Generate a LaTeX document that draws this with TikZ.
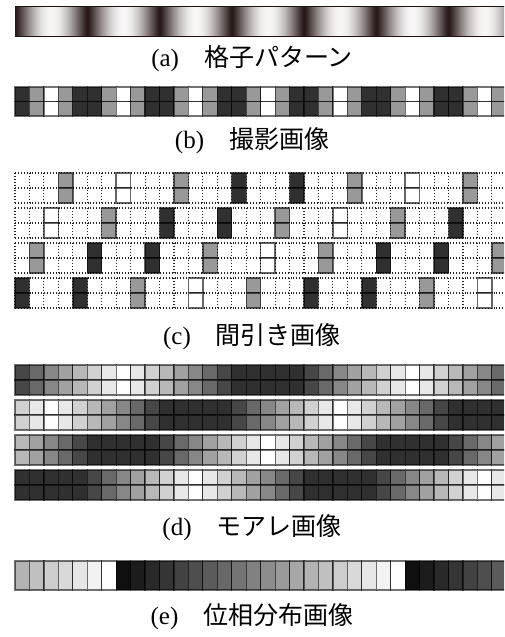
\documentclass[tikz,border=0pt]{standalone}
\usepackage{fontspec}
\setmainfont{Liberation Serif}
\newfontfamily\jp{Noto Sans CJK JP}
\definecolor{gdark}{rgb}{0.13,0.07,0.07}
\begin{document}
\begin{tikzpicture}[x=1pt,y=-1pt,
  cellb/.style={draw=black, draw opacity=0.55, line width=1.2pt},
  solidb/.style={draw=black, draw opacity=0.6, line width=1.4pt},
  dotg/.style={draw=black!85, line width=1.1pt, dash pattern=on 1pt off 1.9pt},
  lab/.style={font=\fontsize{25}{30}\selectfont, inner sep=0pt, anchor=center}]
\useasboundingbox (0,0) rectangle (504,637);
\clip (0,0) rectangle (504,637);
% (a) grating pattern
\foreach \i in {0,...,489}{
  \pgfmathsetmacro\ph{cos((\i+15-51.1)/72.25*360)}
  \pgfmathsetmacro\tv{((1+\ph)/2+0.002)^0.55}
  \pgfmathsetmacro\vr{0.13+0.84*\tv}
  \pgfmathsetmacro\vg{0.07+0.89*\tv}
  \pgfmathsetmacro\vb{0.07+0.89*\tv}
  \definecolor{gc}{rgb}{\vr,\vg,\vb}
  \fill[gc] (\i+15,6) rectangle (\i+16.4,36);
}
\draw[gdark, line width=0.8pt] (15,6) -- (510,6);
\draw[gdark, line width=0.8pt] (15,36) -- (510,36);
% (b) captured image
\foreach \k in {0,...,33}{
  \pgfmathtruncatemacro\m{mod(\k,5)}
  \edef\gv{\ifcase\m\space 0.19\or 0.6\or 1\or 0.6\else 0.19\fi}
  \definecolor{cc}{gray}{\gv}
  \pgfmathsetmacro\xa{15+\k*14.45}
  \filldraw[fill=cc,cellb] (\xa,87) rectangle ++(14.45,14.5);
  \filldraw[fill=cc,cellb] (\xa,101.5) rectangle ++(14.45,14.5);
}
% (c) decimated images
\foreach \s in {0,1,2,3}{
  \pgfmathsetmacro\ya{173+35*\s}
  \pgfmathtruncatemacro\rr{mod(3-\s+4,4)}
  \draw[dotg] (15,\ya) -- (510,\ya);
  \draw[dotg] (15,\ya+15) -- (510,\ya+15);
  \draw[dotg] (15,\ya+30) -- (510,\ya+30);
  \foreach \k in {0,...,34}{
    \pgfmathsetmacro\xa{15+\k*14.45}
    \draw[dotg] (\xa,\ya) -- (\xa,\ya+30);
  }
  \foreach \k in {0,...,33}{
    \pgfmathtruncatemacro\mm{mod(\k,4)}
    \ifnum\mm=\rr
      \pgfmathtruncatemacro\m{mod(\k,5)}
      \edef\gv{\ifcase\m\space 0.19\or 0.6\or 1\or 0.6\else 0.19\fi}
      \definecolor{cc}{gray}{\gv}
      \pgfmathsetmacro\xa{15+\k*14.45}
      \filldraw[fill=cc,solidb] (\xa,\ya) rectangle ++(14.45,15);
      \filldraw[fill=cc,solidb] (\xa,\ya+15) rectangle ++(14.45,15);
    \fi
  }
}
% (d) moire images
\foreach \s/\c in {0/7,1/2,2/17,3/12}{
  \pgfmathsetmacro\ya{365+35*\s}
  \foreach \k in {0,...,33}{
    \pgfmathtruncatemacro\dv{mod(\k-\c+200,20)}
    \pgfmathtruncatemacro\dw{\dv>10 ? 20-\dv : \dv}
    \edef\gv{\ifcase\dw\space 1\or 0.91\or 0.82\or 0.72\or 0.63\or 0.53\or 0.41\or 0.28\else 0.19\fi}
    \definecolor{cc}{gray}{\gv}
    \pgfmathsetmacro\xa{15+\k*14.45}
    \filldraw[fill=cc,cellb] (\xa,\ya) rectangle ++(14.45,15);
    \filldraw[fill=cc,cellb] (\xa,\ya+15) rectangle ++(14.45,15);
  }
}
% (e) phase distribution image
\foreach \k in {0,...,33}{
  \pgfmathtruncatemacro\dv{mod(\k-7+200,20)}
  \pgfmathsetmacro\gv{0.06+0.94*\dv/19}
  \definecolor{cc}{gray}{\gv}
  \pgfmathsetmacro\xa{15+\k*14.45}
  \filldraw[fill=cc,cellb] (\xa,561) rectangle ++(14.45,29);
}
% labels
\node[lab] (la) at (252,59) {(a){\jp　格子パターン}};
\node[lab] (lb) at (252,141) {(b){\jp　撮影画像}};
\node[lab] (lc) at (252,337) {(c){\jp　間引き画像}};
\node[lab] (ld) at (252,528) {(d){\jp　モアレ画像}};
\node[lab] (le) at (252,617) {(e){\jp　位相分布画像}};
\end{tikzpicture}
\end{document}
